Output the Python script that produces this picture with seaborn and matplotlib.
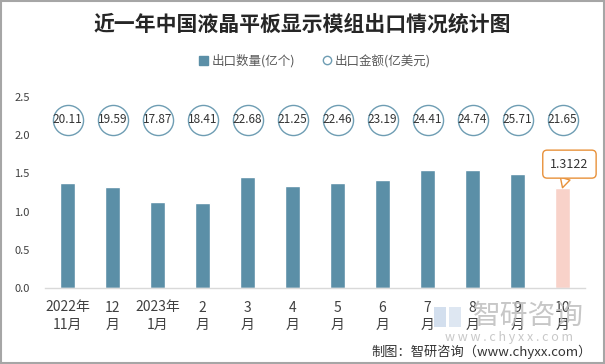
import numpy as np
import pandas as pd
import matplotlib
matplotlib.use("Agg")
import matplotlib.pyplot as plt
import seaborn as sns
from matplotlib.patches import Rectangle, Patch
from matplotlib.lines import Line2D

# ---- data ----
months = ["2022年\n11月", "12\n月", "2023年\n1月", "2\n月", "3\n月", "4\n月",
          "5\n月", "6\n月", "7\n月", "8\n月", "9\n月", "10\n月"]
quantity = [1.37, 1.32, 1.12, 1.11, 1.45, 1.34, 1.37, 1.42, 1.54, 1.55, 1.49, 1.3122]
amount = [20.11, 19.59, 17.87, 18.41, 22.68, 21.25, 22.46, 23.19, 24.41, 24.74, 25.71, 21.65]
yticks = [0.0, 0.5, 1.0, 1.5, 2.0, 2.5]

title = "近一年中国液晶平板显示模组出口情况统计图"
legend_labels = ["出口数量(亿个)", "出口金额(亿美元)"]
source = "制图：智研咨询（www.chyxx.com）"

BAR = "#5b8fa7"
LAST = "#f8d2c9"
CIRCLE_EDGE = "#6e9db3"
ORANGE = "#e8913a"
LABEL_ROW = 2.2  # height of the amount label row on the quantity axis

sns.set_theme(style="white")
plt.rcParams["font.family"] = ["Noto Sans CJK SC", "DejaVu Sans"]

df = pd.DataFrame({"month": months, "quantity": quantity, "amount": amount})
df["pos"] = np.arange(len(df))

fig = plt.figure(figsize=(6.05, 3.64), dpi=100)
ax = fig.add_axes([45 / 605, 1 - 288 / 364, 540 / 605, (288 - 97) / 364])

colors = [BAR] * (len(df) - 1) + [LAST]
sns.barplot(data=df, x="month", y="quantity", hue="month", palette=colors,
            legend=False, width=0.33, ax=ax, saturation=1)

sns.scatterplot(x=df["pos"], y=[LABEL_ROW] * len(df), s=470, marker="o",
                facecolor="white", edgecolor=CIRCLE_EDGE, linewidth=1.0,
                ax=ax, zorder=3, legend=False)
for p, a in zip(df["pos"], df["amount"]):
    ax.text(p, LABEL_ROW, f"{a:.2f}", ha="center", va="center",
            fontsize=8.5, color="#333333", zorder=4)

# callout on last bar
last = len(df) - 1
ax.annotate(f"{quantity[-1]:.4f}", xy=(last, quantity[-1]), xytext=(5, 17),
            textcoords="offset points", ha="center", va="center",
            fontsize=9, color="#333333", annotation_clip=False,
            bbox=dict(boxstyle="round,pad=0.6,rounding_size=0.35",
                      fc="white", ec=ORANGE, lw=1.0),
            arrowprops=dict(arrowstyle="wedge,tail_width=0.8", fc="white",
                            ec=ORANGE, lw=1.0, shrinkA=0, shrinkB=0))

ax.set_xlim(-0.5, len(df) - 0.5)
ax.set_ylim(0, 2.5)
ax.set_yticks(yticks)
ax.set_yticklabels([f"{v:.1f}" for v in yticks])
ax.set_xlabel("")
ax.set_ylabel("")
ax.tick_params(axis="y", length=0, pad=11, labelsize=8, labelcolor="#404040")
ax.tick_params(axis="x", length=0, pad=9, labelsize=10, labelcolor="#404040")
for lbl in ax.get_xticklabels():
    lbl.set_linespacing(1.35)
for s in ["top", "right", "left"]:
    ax.spines[s].set_visible(False)
ax.spines["bottom"].set_color("#d9d9d9")
ax.spines["bottom"].set_linewidth(1.0)
ax.grid(False)

# title
fig.text(0.5, 1 - 24 / 364, title, ha="center", va="center", fontsize=15,
         fontweight="bold", color="#262626")

# legend
handles = [Patch(facecolor=BAR, edgecolor=BAR),
           Line2D([], [], marker="o", linestyle="none", markersize=6,
                  markerfacecolor="white", markeredgecolor=CIRCLE_EDGE)]
fig.legend(handles, legend_labels, loc="center", ncol=2, frameon=False,
           bbox_to_anchor=(315 / 605, 1 - 61 / 364), fontsize=9,
           labelcolor="#595959", handlelength=0.7, handleheight=0.7,
           handletextpad=0.3, columnspacing=2.2)

# watermark
fig.patches.append(Rectangle((434 / 605, 1 - 327 / 364), 12 / 605, 20 / 364,
                             transform=fig.transFigure, fc="#c9d8ea", ec="none", alpha=0.8))
fig.patches.append(Rectangle((449 / 605, 1 - 327 / 364), 12 / 605, 20 / 364,
                             transform=fig.transFigure, fc="#d6e2ef", ec="none", alpha=0.8))
fig.text(528 / 605, 1 - 316 / 364, "智研咨询", ha="center", va="center",
         fontsize=20, color="#bdbdbd", alpha=0.85)
fig.text(509 / 605, 1 - 338 / 364, "w w w . c h y x x . c o m", ha="center",
         va="center", fontsize=9, color="#c8c8c8")

# source
fig.text(592 / 605, 1 - 352 / 364, source, ha="right", va="center",
         fontsize=9.5, color="#333333")

# border
fig.patches.append(Rectangle((0.001, 0.002), 0.997, 0.995, transform=fig.transFigure,
                             fill=False, ec="#a6a6a6", lw=1.5))

fig.savefig("out.png", dpi=100)
